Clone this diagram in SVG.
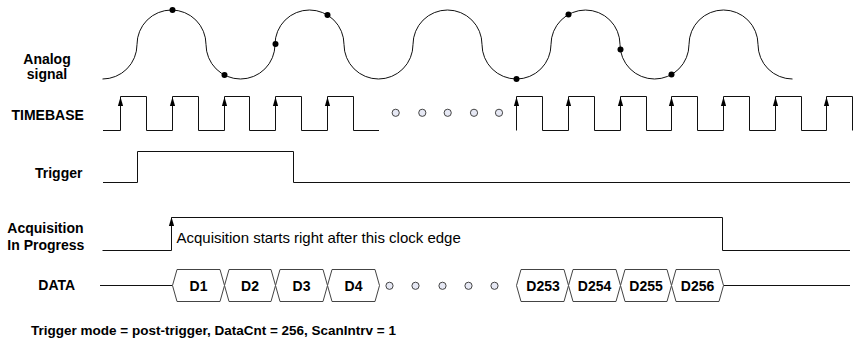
<svg xmlns="http://www.w3.org/2000/svg" xmlns:xlink="http://www.w3.org/1999/xlink" width="856" height="342" viewBox="0 0 856 342">
<style>
.lbl{font-family:"Liberation Sans",Arial,sans-serif;font-weight:bold;font-size:14px;fill:#000}
.note{font-family:"Liberation Sans",Arial,sans-serif;font-size:15px;fill:#000}
.dl{font-family:"Liberation Sans",Arial,sans-serif;font-weight:bold;font-size:14px;fill:#000;text-anchor:middle}
.wave{fill:none;stroke:#111;stroke-width:1}
.box{fill:#fff;stroke:#444;stroke-width:1}
.dot{fill:#000}
.ell{fill:#e6e8f4;stroke:#444;stroke-width:1}
.ah{fill:#000}
</style>
<defs>
<path id="ah" d="M0,0 L-2.6,9 L2.6,9 Z"/>
<circle id="ell" r="3.6"/>
</defs>
<rect width="856" height="342" fill="#fff"/>

<g id="analog">
<text class="lbl" x="47" y="63.5" text-anchor="middle">Analog</text>
<text class="lbl" x="47" y="79" text-anchor="middle">signal</text>
<path class="wave" d="M102.5,79 A34.5,34.5 0 0 0 137,44.5 A34.5,34.5 0 0 1 206,44.5 A34.5,34.5 0 0 0 275,44.5 A34.5,34.5 0 0 1 344,44.5 A34.5,34.5 0 0 0 413,44.5 A34.5,34.5 0 0 1 482,44.5 A34.5,34.5 0 0 0 551,44.5 A34.5,34.5 0 0 1 620,44.5 A34.5,34.5 0 0 0 689,44.5 A34.5,34.5 0 0 1 758,44.5 A34.5,34.5 0 0 0 792.5,79"/>
<circle class="dot" cx="172.5" cy="10" r="3"/>
<circle class="dot" cx="224.5" cy="75" r="3"/>
<circle class="dot" cx="275.5" cy="44" r="3"/>
<circle class="dot" cx="327.5" cy="15" r="3"/>
<circle class="dot" cx="516.5" cy="79" r="3"/>
<circle class="dot" cx="568.5" cy="14.5" r="3"/>
<circle class="dot" cx="620.5" cy="49.5" r="3"/>
<circle class="dot" cx="671.5" cy="74.5" r="3"/>
</g>

<g id="timebase">
<text class="lbl" x="11.5" y="120">TIMEBASE</text>
<path class="wave" d="M103,130.5 H120.5 V96.5 H146.5 V130.5 H172.5 V96.5 H198.5 V130.5 H224.5 V96.5 H249.5 V130.5 H275.5 V96.5 H301.5 V130.5 H327.5 V96.5 H353.5 V130.5 H379"/>
<path class="wave" d="M516.5,130.5 V96.5 H542.5 V130.5 H568.5 V96.5 H594.5 V130.5 H620.5 V96.5 H646.5 V130.5 H671.5 V96.5 H697.5 V130.5 H723.5 V96.5 H749.5 V130.5 H775.5 V96.5 H801.5 V130.5 H826.5 V96.5 H852.5 V130.5"/>
<g class="ah">
<use xlink:href="#ah" x="120.5" y="97"/>
<use xlink:href="#ah" x="172.5" y="97"/>
<use xlink:href="#ah" x="224.5" y="97"/>
<use xlink:href="#ah" x="275.5" y="97"/>
<use xlink:href="#ah" x="327.5" y="97"/>
<use xlink:href="#ah" x="516.5" y="97"/>
<use xlink:href="#ah" x="568.5" y="97"/>
<use xlink:href="#ah" x="620.5" y="97"/>
<use xlink:href="#ah" x="671.5" y="97"/>
<use xlink:href="#ah" x="723.5" y="97"/>
<use xlink:href="#ah" x="775.5" y="97"/>
<use xlink:href="#ah" x="826.5" y="97"/>
</g>
<g class="ell">
<use xlink:href="#ell" x="395.7" y="112.8"/>
<use xlink:href="#ell" x="422.3" y="112.8"/>
<use xlink:href="#ell" x="447.7" y="112.8"/>
<use xlink:href="#ell" x="474" y="112.8"/>
<use xlink:href="#ell" x="499" y="112.8"/>
</g>
</g>

<g id="trigger">
<text class="lbl" x="35" y="177.5">Trigger</text>
<path class="wave" d="M103,182.5 H137.5 V151.5 H293.5 V182.5 H850"/>
</g>

<g id="acquisition">
<text class="lbl" x="7.3" y="233">Acquisition</text>
<text class="lbl" x="7.3" y="250">In Progress</text>
<path class="wave" d="M102.5,250.5 H171.5 V217.5 H722.5 V250.5 H850"/>
<use class="ah" xlink:href="#ah" x="171.5" y="217"/>
<text class="note" x="176.5" y="243">Acquisition starts right after this clock edge</text>
</g>

<g id="data">
<text class="lbl" x="38.3" y="290">DATA</text>
<path class="wave" d="M100,285.5 H172.5"/>
<path class="wave" d="M723.5,285.5 H850"/>
<g id="d1"><path class="box" d="M172.5,285.5 L177,269.5 H220 L224.5,285.5 L220,301.5 H177 Z"/><text class="dl" x="198.5" y="290.5">D1</text></g>
<g id="d2"><path class="box" d="M224.5,285.5 L229,269.5 H271 L275.5,285.5 L271,301.5 H229 Z"/><text class="dl" x="250" y="290.5">D2</text></g>
<g id="d3"><path class="box" d="M275.5,285.5 L280,269.5 H323 L327.5,285.5 L323,301.5 H280 Z"/><text class="dl" x="301.5" y="290.5">D3</text></g>
<g id="d4"><path class="box" d="M327.5,285.5 L332,269.5 H375 L379.5,285.5 L375,301.5 H332 Z"/><text class="dl" x="353.5" y="290.5">D4</text></g>
<g class="ell">
<use xlink:href="#ell" x="389.5" y="285.8"/>
<use xlink:href="#ell" x="415.5" y="285.8"/>
<use xlink:href="#ell" x="442.5" y="285.8"/>
<use xlink:href="#ell" x="468.5" y="285.8"/>
<use xlink:href="#ell" x="494.5" y="285.8"/>
</g>
<g id="d253"><path class="box" d="M516.5,285.5 L521,269.5 H564 L568.5,285.5 L564,301.5 H521 Z"/><text class="dl" x="543" y="290.5">D253</text></g>
<g id="d254"><path class="box" d="M568.5,285.5 L573,269.5 H616 L620.5,285.5 L616,301.5 H573 Z"/><text class="dl" x="594.5" y="290.5">D254</text></g>
<g id="d255"><path class="box" d="M620.5,285.5 L625,269.5 H667 L671.5,285.5 L667,301.5 H625 Z"/><text class="dl" x="646" y="290.5">D255</text></g>
<g id="d256"><path class="box" d="M671.5,285.5 L676,269.5 H719 L723.5,285.5 L719,301.5 H676 Z"/><text class="dl" x="697.5" y="290.5">D256</text></g>
</g>

<g id="caption">
<text class="lbl" x="31" y="335" style="font-size:13.5px">Trigger mode = post-trigger, DataCnt = 256, ScanIntrv = 1</text>
</g>
</svg>
